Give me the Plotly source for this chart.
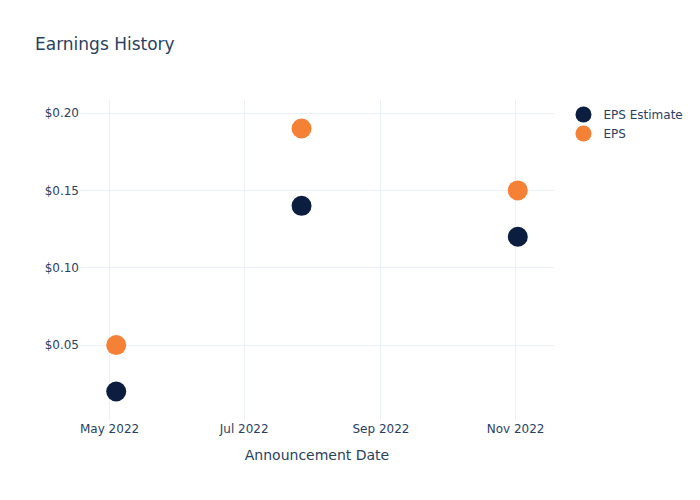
import plotly.graph_objects as go

dates = ["2022-05-04", "2022-07-27", "2022-11-02"]
eps_estimate = [0.02, 0.14, 0.12]
eps_actual = [0.05, 0.19, 0.15]

fig = go.Figure()
fig.add_trace(go.Scatter(x=dates, y=eps_estimate, mode="markers", name="EPS Estimate",
                         marker=dict(color="#0c1e40", size=20)))
fig.add_trace(go.Scatter(x=dates, y=eps_actual, mode="markers", name="EPS",
                         marker=dict(color="#f58136", size=20)))
fig.update_layout(
    template="plotly_white",
    width=700, height=500,
    title=dict(text="Earnings History"),
    font=dict(family="DejaVu Sans"),
    xaxis=dict(title=dict(text="Announcement Date"), dtick="M2", tickformat="%b %Y"),
    yaxis=dict(tickformat="$.2f"),
)
fig.write_html("out.html")
